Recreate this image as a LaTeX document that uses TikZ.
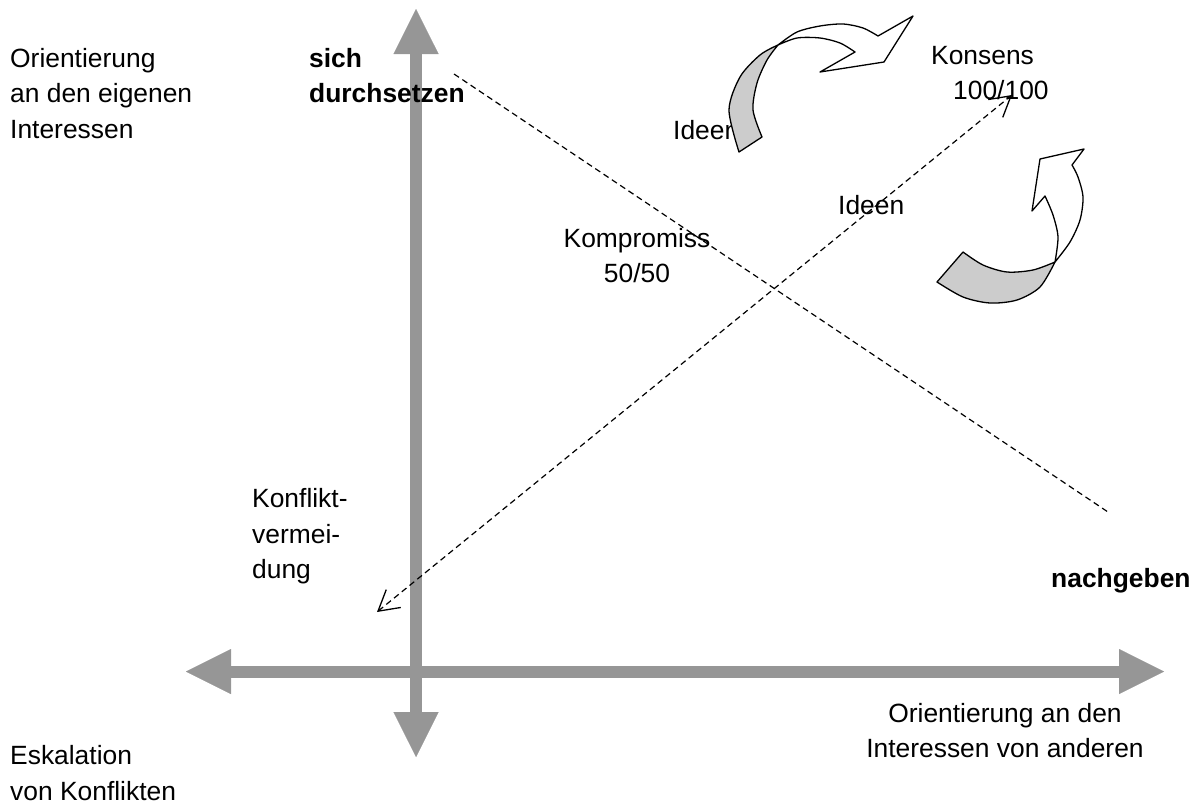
\documentclass[tikz,border=0pt]{standalone}
\usepackage{fontspec}
\setmainfont{Liberation Sans}
\usetikzlibrary{arrows.meta}
\definecolor{axisgray}{HTML}{969696}
\definecolor{ribbongray}{HTML}{CCCCCC}
\begin{document}
\begin{tikzpicture}[x=1pt,y=-1pt,
  axis/.style={draw=axisgray, line width=12pt,
    {Triangle[length=45pt,width=45pt,line width=0.01pt]}-{Triangle[length=45pt,width=45pt,line width=0.01pt]}},
  lbl/.style={inner sep=0pt, anchor=north west, align=left, font=\fontsize{26.4}{35.5}\selectfont},
  dashline/.style={draw=black, line width=1.2pt, dash pattern=on 6pt off 4pt},
  biarrow/.style={{Straight Barb[length=20pt,width=23pt,line width=1.3pt]}-{Straight Barb[length=20pt,width=23pt,line width=1.3pt]}},
  ribbon/.style={draw=black, line width=1.3pt, line join=round}
]
\useasboundingbox (0,0) rectangle (1197,803);
% axes
\coordinate (hl) at (186,671.5);
\coordinate (hr) at (1164,671.5);
\coordinate (vt) at (416,9);
\coordinate (vb) at (416,757);
\draw[axis] (hl) -- (hr);
\draw[axis] (vt) -- (vb);
% labels
\node[lbl] (ol) at (10,48) {Orientierung\\an den eigenen\\Interessen};
\node[lbl, font=\fontsize{26.4}{35.5}\selectfont\bfseries] (sd) at (309,48) {sich\\durchsetzen};
\node[lbl] (id1) at (673,120) {Ideen};
\node[lbl] (ko) at (931,46) {Konsens\\\hspace*{22pt}100/100};
\node[lbl] (id2) at (838,195) {Ideen};
\node[lbl, anchor=north, align=center] (kp) at (637,228) {Kompromiss\\50/50};
\node[lbl] (kv) at (252,488.5) {Konflikt-\\vermei-\\dung};
\node[lbl, font=\fontsize{26.4}{35.5}\selectfont\bfseries] (ng) at (1051,568) {nachgeben};
\node[lbl] (esk) at (10,745.5) {Eskalation\\von Konflikten};
\node[lbl, anchor=north, align=center] (oa) at (1005,703) {Orientierung an den\\Interessen von anderen};
% dashed lines
\coordinate (d1a) at (454,74);
\coordinate (d1b) at (1108,512);
\draw[dashline] (d1a) -- (d1b);
\coordinate (d2a) at (377,612);
\coordinate (d2b) at (1012,95);
\draw[dashline, biarrow] (d2a) -- (d2b);
% curved arrow 1
\filldraw[ribbon, fill=ribbongray] plot[smooth] coordinates {(739,152) (729,110) (740,77) (760,55) (778,45)}
  --plot[smooth] coordinates {(778,45) (767,60) (757,83) (753,110) (762,137)} -- cycle;
\filldraw[ribbon, fill=white] plot[smooth] coordinates {(778,45) (797,32) (820,26) (843,24) (863,28) (878,36)}
  -- (913,16) -- (884,62) -- (820,72) -- (855,52)
  --plot[smooth] coordinates {(855,52) (840,43) (820,38) (797,38) (778,45)} -- cycle;
% curved arrow 2
\filldraw[ribbon, fill=ribbongray] plot[smooth] coordinates {(937,282) (963,297) (990,303) (1017,300) (1040,287) (1055,262)}
  --plot[smooth] coordinates {(1055,262) (1033,270) (1007,272) (983,265) (963,252)} -- cycle;
\filldraw[ribbon, fill=white] plot[smooth] coordinates {(1055,262) (1070,242) (1080,220) (1083,197) (1078,177) (1072,165)}
  -- (1084,149) -- (1040,159) -- (1032,211) -- (1045,196)
  --plot[smooth] coordinates {(1045,196) (1053,215) (1058,237) (1055,262)} -- cycle;
\end{tikzpicture}
\end{document}
